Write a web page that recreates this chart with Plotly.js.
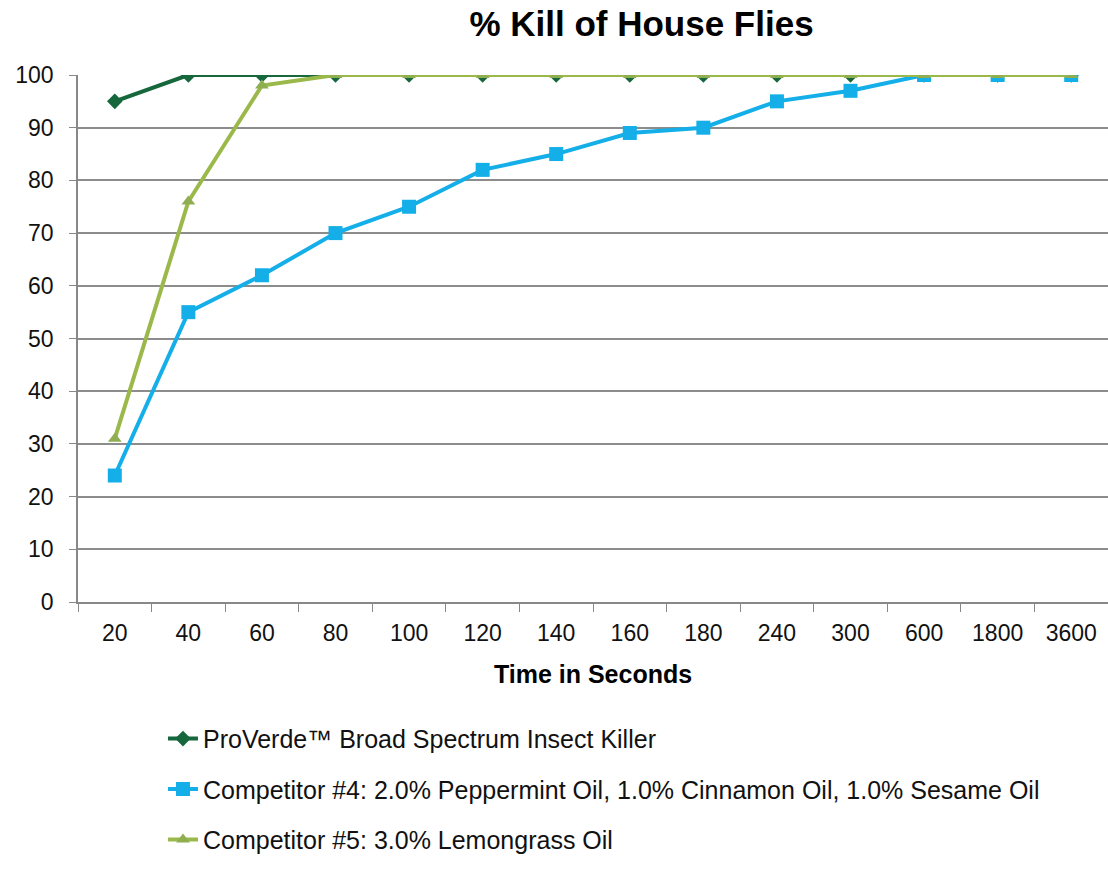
<!DOCTYPE html>
<html>
<head>
<meta charset="utf-8">
<script src="https://cdn.plot.ly/plotly-3.0.1.min.js"></script>
<style>html,body{margin:0;padding:0;background:#fff;}#chart{width:1108px;height:889px;}</style>
</head>
<body>
<div id="chart"></div>
<script>
const categories = ["20","40","60","80","100","120","140","160","180","240","300","600","1800","3600"];
const proVerde = [95,100,100,100,100,100,100,100,100,100,100,100,100,100];
const competitor4 = [24,55,62,70,75,82,85,89,90,95,97,100,100,100];
const competitor5 = [31,76,98,100,100,100,100,100,100,100,100,100,100,100];
const seriesNames = [
  "ProVerde™ Broad Spectrum Insect Killer",
  "Competitor #4: 2.0% Peppermint Oil, 1.0% Cinnamon Oil, 1.0% Sesame Oil",
  "Competitor #5: 3.0% Lemongrass Oil"
];
const yTicks = [0,10,20,30,40,50,60,70,80,90,100];

const font = "Liberation Sans, Arial, sans-serif";
const traces = [
  {x: categories, y: proVerde, name: seriesNames[0], legendgroup: "a", type: "scatter", mode: "lines+markers",
   line: {color: "#17673d", width: 4}, marker: {symbol: "diamond", size: 12, color: "#17673d"}},
  {x: categories, y: competitor4, name: seriesNames[1], legendgroup: "b", type: "scatter", mode: "lines+markers",
   line: {color: "#14aee8", width: 4}, marker: {symbol: "square", size: 14, color: "#14aee8"}},
  {x: categories, y: competitor5, name: seriesNames[2], legendgroup: "c", type: "scatter", mode: "lines+markers",
   line: {color: "#9bb84a", width: 4}, marker: {symbol: "triangle-up", size: 12, color: "#8fae52"}}
];

const layout = {
  width: 1108, height: 889,
  margin: {l: 78, r: 0, t: 75, b: 287},
  paper_bgcolor: "#ffffff", plot_bgcolor: "#ffffff",
  font: {family: font, color: "#000"},
  showlegend: true,
  title: {text: "<b>% Kill of House Flies</b>", x: 0.579, xanchor: "center", y: 0.973, yanchor: "middle",
          font: {family: font, size: 35, color: "#000"}},
  xaxis: {
    type: "category", range: [-0.5, 13.5], autorange: false,
    tickson: "boundaries", ticks: "outside", ticklen: 8, tickcolor: "#888",
    ticklabelstandoff: 10,
    showline: true, linecolor: "#888", linewidth: 1.5, showgrid: false, zeroline: false,
    tickfont: {family: font, size: 23, color: "#111"},
    title: {text: "<b>Time in Seconds</b>", font: {family: font, size: 25, color: "#000"}, standoff: 20}
  },
  yaxis: {
    range: [0, 100], autorange: false, tickvals: yTicks, ticks: "outside", ticklen: 7, tickcolor: "#888",
    ticklabelstandoff: 11,
    showline: true, linecolor: "#888", linewidth: 1.5, showgrid: true, gridcolor: "#8c8c8c", gridwidth: 1.5,
    zeroline: false, tickfont: {family: font, size: 23, color: "#111"}
  },
  legend: {
    orientation: "v", x: 0.0825, xanchor: "left", y: -0.216, yanchor: "top",
    traceorder: "grouped", tracegroupgap: 15,
    font: {family: font, size: 25, color: "#111"}, bgcolor: "rgba(0,0,0,0)"
  }
};

Plotly.newPlot("chart", traces, layout, {displayModeBar: false});
</script>
</body>
</html>
